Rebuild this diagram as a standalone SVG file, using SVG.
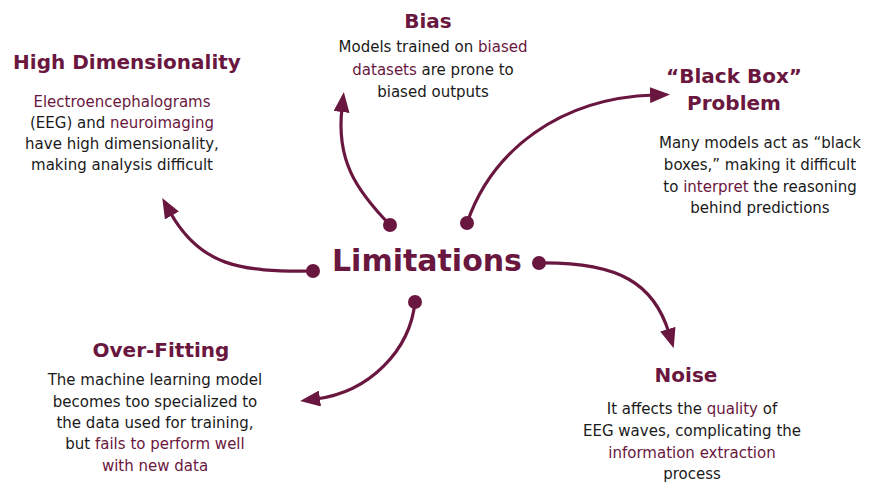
<svg xmlns="http://www.w3.org/2000/svg" width="872" height="484" viewBox="0 0 872 484">
  <style>
    text { font-family: "DejaVu Sans", "Noto Sans", sans-serif; text-anchor: middle; }
    .title { font-size: 20px; font-weight: bold; fill: #6a1740; }
    .hub { font-size: 30px; font-weight: bold; fill: #6a1740; }
    .body { font-size: 15px; fill: #1a1a1a; }
    .hl { fill: #6a1740; }
    .link { fill: none; stroke: #6a1740; stroke-width: 3.2; stroke-linecap: round; marker-end: url(#head); }
    .dot { fill: #6a1740; }
  </style>
  <defs>
    <marker id="head" viewBox="0 0 20 16" refX="4" refY="8" markerWidth="20" markerHeight="16" markerUnits="userSpaceOnUse" orient="auto">
      <path d="M0,0 L20,8 L0,16 Z" fill="#6a1740"/>
    </marker>
  </defs>
  <rect width="872" height="484" fill="#ffffff"/>

  <g id="connectors">
    <path class="link" d="M313,271 C240,272 200,266 170,212"/>
    <circle class="dot" cx="313" cy="271" r="7"/>
    <path class="link" d="M390,225 C356,190 336,160 342,108"/>
    <circle class="dot" cx="390" cy="225" r="7"/>
    <path class="link" d="M467,223 C492,150 560,98 654,95"/>
    <circle class="dot" cx="467" cy="223" r="7"/>
    <path class="link" d="M539,263 C620,262 654,284 669,333"/>
    <circle class="dot" cx="539" cy="263" r="7"/>
    <path class="link" d="M415,302 C410,350 370,392 316,399"/>
    <circle class="dot" cx="415" cy="302" r="7"/>
  </g>

  <g id="limitations">
    <text class="hub" x="427" y="271">Limitations</text>
  </g>

  <g id="high-dimensionality">
    <text class="title" x="127" y="69">High Dimensionality</text>
    <text class="body" x="122" y="107"><tspan class="hl">Electroencephalograms</tspan></text>
    <text class="body" x="122" y="128">(EEG) and <tspan class="hl">neuroimaging</tspan></text>
    <text class="body" x="122" y="149">have high dimensionality,</text>
    <text class="body" x="122" y="170">making analysis difficult</text>
  </g>

  <g id="bias">
    <text class="title" x="428" y="28">Bias</text>
    <text class="body" x="433" y="52">Models trained on <tspan class="hl">biased</tspan></text>
    <text class="body" x="433" y="75"><tspan class="hl">datasets</tspan> are prone to</text>
    <text class="body" x="433" y="97">biased outputs</text>
  </g>

  <g id="black-box">
    <text class="title" x="734" y="83">“Black Box”</text>
    <text class="title" x="734" y="110">Problem</text>
    <text class="body" x="760" y="148">Many models act as “black</text>
    <text class="body" x="760" y="170">boxes,” making it difficult</text>
    <text class="body" x="760" y="192">to <tspan class="hl">interpret</tspan> the reasoning</text>
    <text class="body" x="760" y="213">behind predictions</text>
  </g>

  <g id="over-fitting">
    <text class="title" x="161" y="357">Over-Fitting</text>
    <text class="body" x="155" y="385">The machine learning model</text>
    <text class="body" x="155" y="407">becomes too specialized to</text>
    <text class="body" x="155" y="428">the data used for training,</text>
    <text class="body" x="155" y="449">but <tspan class="hl">fails to perform well</tspan></text>
    <text class="body" x="155" y="471"><tspan class="hl">with new data</tspan></text>
  </g>

  <g id="noise">
    <text class="title" x="686" y="382">Noise</text>
    <text class="body" x="692" y="414">It affects the <tspan class="hl">quality</tspan> of</text>
    <text class="body" x="692" y="436">EEG waves, complicating the</text>
    <text class="body" x="692" y="458"><tspan class="hl">information extraction</tspan></text>
    <text class="body" x="692" y="479">process</text>
  </g>
</svg>
